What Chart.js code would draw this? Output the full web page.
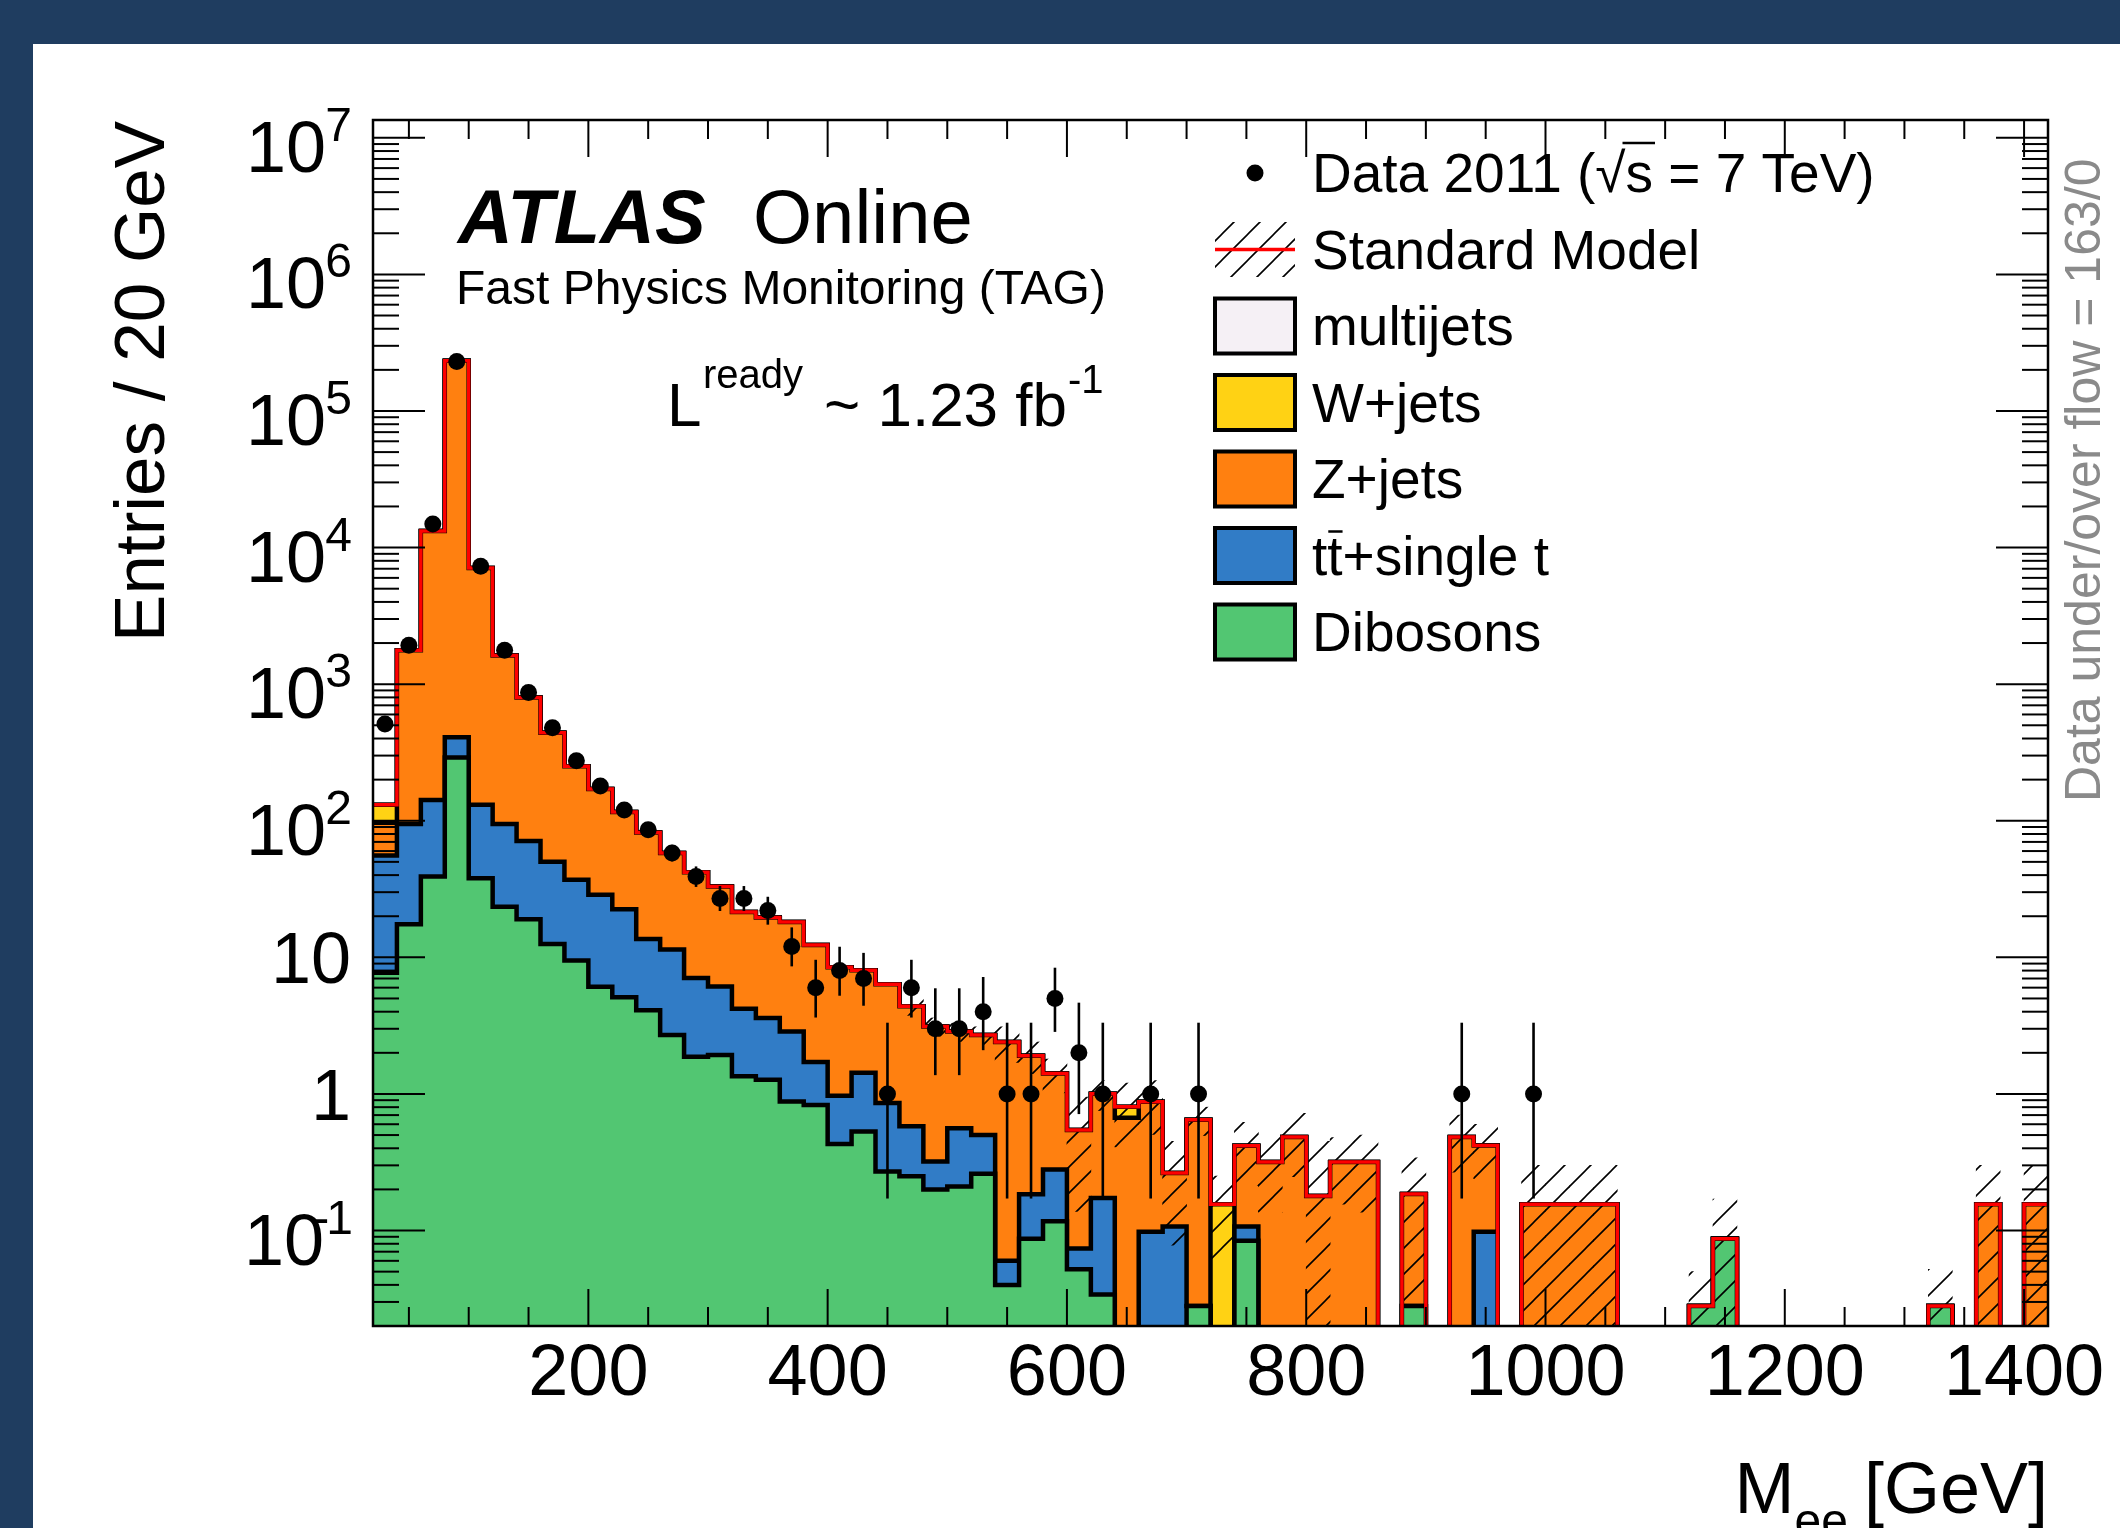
<!DOCTYPE html>
<html>
<head>
<meta charset="utf-8">
<script src="https://cdn.jsdelivr.net/npm/chart.js@4.4.1/dist/chart.umd.min.js"></script>
<style>
    html, body { margin: 0; padding: 0; background: #1f3d60; overflow: hidden; }
    canvas { display: block; }
</style>
</head>
<body>
<canvas id="meeChart" width="2120" height="1528"></canvas>
<script>
// 20 GeV bins from 20 to 1420 GeV
const binStart = 20;
const binWidth = 20;
const nBins = 70;

const xTickLabels = [200, 400, 600, 800, 1000, 1200, 1400];
const yTickExponents = [7, 6, 5, 4, 3, 2, 1, 0, -1];

const legendLabels = ["Data 2011 (\u221As = 7 TeV)", "Standard Model", "multijets", "W+jets", "Z+jets", "tt+single t", "Dibosons"];

const dataCounts = [
    510, 1930, 14900, 230000, 7300, 1770, 870, 480, 275, 180,
    120, 86, 58, 39, 27, 27, 22, 12, 6, 8,
    7, 1, 6, 3, 3, 4, 1, 1, 5, 2,
    1, 0, 1, 0, 1, 0, 0, 0, 0, 0,
    0, 0, 0, 0, 0, 1, 0, 0, 1, 0,
    0, 0, 0, 0, 0, 0, 0, 0, 0, 0,
    0, 0, 0, 0, 0, 0, 0, 0, 0, 0
];

const dibosons = [
    7.7, 17.5, 39, 290, 38, 23.5, 19, 12.5, 9.5, 6.1,
    5.1, 4.1, 2.7, 1.87, 1.93, 1.35, 1.27, 0.88, 0.83, 0.43,
    0.53, 0.27, 0.25, 0.20, 0.21, 0.26, 0.040, 0.087, 0.117, 0.052,
    0.034, 0, 0, 0, 0.028, 0, 0.084, 0, 0, 0,
    0, 0, 0, 0.028, 0, 0, 0, 0, 0, 0,
    0, 0, 0, 0, 0, 0.028, 0.087, 0, 0, 0,
    0, 0, 0, 0, 0, 0.028, 0, 0, 0, 0
];

const ttbarSingleTop = [
    48, 77, 103, 118, 93, 71, 52, 37.5, 27.5, 22.6,
    17.4, 9.5, 8.7, 5.2, 4.2, 2.85, 2.33, 1.98, 0.88, 0.54,
    0.90, 0.59, 0.33, 0.12, 0.35, 0.24, 0.020, 0.097, 0.163, 0.022,
    0.139, 0, 0.098, 0.107, 0, 0, 0.023, 0, 0, 0,
    0, 0, 0, 0, 0, 0, 0.098, 0, 0, 0,
    0, 0, 0, 0, 0, 0, 0, 0, 0, 0,
    0, 0, 0, 0, 0, 0, 0, 0, 0, 0
];

const zJets = [
    41, 1675, 13060, 232600, 6970, 1525, 729, 391, 214, 142,
    93.5, 68.4, 46.6, 34.9, 26.9, 17.3, 16.0, 15.3, 10.6, 7.5,
    6.6, 5.5, 3.8, 2.8, 2.3, 2.2, 2.34, 1.72, 1.13, 0.47,
    0.83, 0.67, 0.78, 0.157, 0.62, 0, 0.31, 0.318, 0.484, 0.179,
    0.318, 0.318, 0, 0.157, 0, 0.484, 0.322, 0, 0.156, 0.156,
    0.156, 0.156, 0, 0, 0, 0, 0, 0, 0, 0,
    0, 0, 0, 0, 0, 0, 0, 0.156, 0, 0.156
];

const wJets = [
    34, 0, 0, 0, 0, 0, 0, 0, 0, 0,
    0, 0, 0, 0, 0, 0, 0, 0, 0, 0,
    0, 0, 0, 0, 0, 0, 0, 0, 0, 0,
    0, 0.135, 0, 0, 0, 0.156, 0, 0, 0, 0,
    0, 0, 0, 0, 0, 0, 0, 0, 0, 0,
    0, 0, 0, 0, 0, 0, 0, 0, 0, 0,
    0, 0, 0, 0, 0, 0, 0, 0, 0, 0
];

const multijets = [
    0, 0, 0, 0, 0, 0, 0, 0, 0, 0,
    0, 0, 0, 0, 0, 0, 0, 0, 0, 0,
    0, 0, 0, 0, 0, 0, 0, 0, 0, 0,
    0, 0, 0, 0, 0, 0, 0, 0, 0, 0,
    0, 0, 0, 0, 0, 0, 0, 0, 0, 0,
    0, 0, 0, 0, 0, 0, 0, 0, 0, 0,
    0, 0, 0, 0, 0, 0, 0, 0, 0, 0
];

// upper edge of the SM uncertainty band (null = not visible)
const smBandHigh = [
    null, null, null, null, null, null, null, null, null, null,
    null, null, null, null, null, null, null, null, null, null,
    null, null, 5.0, 3.6, 3.3, 3.1, 3.1, 2.4, 1.8, 0.95,
    1.25, 1.2, 1.25, 0.45, 0.8, 0.25, 0.62, 0.5, 0.72, 0.45,
    0.48, 0.5, null, 0.34, null, 0.7, 0.6, null, 0.3, 0.3,
    0.3, 0.3, null, null, null, 0.05, 0.17, null, null, null,
    null, null, null, null, null, 0.052, null, 0.3, null, 0.3
];

const FONT = '"Liberation Sans", Arial, Helvetica, sans-serif';
const FLOOR = 1e-4;
const fillColours = ["#52c672", "#317cc6", "#ff8010", "#ffd214", "#f5f0f5"];

const binEdges = [];
for (let i = 0; i <= nBins; i++) binEdges.push(binStart + i * binWidth);

function stepPoints(values) {
    const pts = values.map((v, i) => ({ x: binEdges[i], y: v > 0 ? v : FLOOR }));
    const last = values[values.length - 1];
    pts.push({ x: binEdges[nBins], y: last > 0 ? last : FLOOR });
    return pts;
}

// stack, bottom to top
const layers = [dibosons, ttbarSingleTop, zJets, wJets, multijets];
const cumulative = [];
let running = new Array(nBins).fill(0);
layers.forEach(layer => {
    running = running.map((v, i) => v + layer[i]);
    cumulative.push(running);
});
const smTotal = cumulative[cumulative.length - 1];

function makeHatch() {
    const s = 26;
    const c = document.createElement("canvas");
    c.width = s; c.height = s;
    const g = c.getContext("2d");
    g.strokeStyle = "#000";
    g.lineWidth = 1.6;
    g.beginPath();
    g.moveTo(-s / 2, s / 2); g.lineTo(s / 2, -s / 2);
    g.moveTo(0, s); g.lineTo(s, 0);
    g.moveTo(s / 2, s * 1.5); g.lineTo(s * 1.5, s / 2);
    g.stroke();
    return g.createPattern(c, "repeat");
}
const hatch = makeHatch();

const bandData = [];
smBandHigh.forEach((hi, i) => {
    if (hi === null) return;
    const lo = Math.max(2 * smTotal[i] - hi, FLOOR);
    bandData.push({ x: binEdges[i] + binWidth / 2, y: [lo, hi] });
});

const dataPoints = [];
dataCounts.forEach((n, i) => {
    if (n > 0) dataPoints.push({ x: binEdges[i] + binWidth / 2, y: n });
});

const stackSets = cumulative.map((c, k) => ({
    type: "line",
    data: stepPoints(c),
    stepped: true,
    fill: "start",
    backgroundColor: fillColours[k],
    borderColor: "#000",
    borderWidth: 4.5,
    pointRadius: 0,
    order: 3 + k,
    clip: 0
}));

const datasets = [
    {
        type: "line",
        data: dataPoints,
        showLine: false,
        pointRadius: 8.5,
        pointBackgroundColor: "#000",
        pointBorderWidth: 0,
        errorBars: true,
        order: 0,
        clip: 0
    },
    {
        type: "line",
        data: stepPoints(smTotal),
        stepped: true,
        fill: false,
        borderColor: "#ff0000",
        borderWidth: 3.5,
        pointRadius: 0,
        order: 1,
        clip: 0
    },
    {
        type: "bar",
        data: bandData,
        backgroundColor: hatch,
        borderWidth: 0,
        barPercentage: 1,
        categoryPercentage: 1,
        grouped: false,
        order: 2,
        clip: 0
    }
].concat(stackSets);

function txt(ctx, s, x, y, size, opts) {
    opts = opts || {};
    ctx.font = (opts.style || "") + " " + size + "px " + FONT;
    ctx.fillStyle = opts.color || "#000";
    ctx.textAlign = opts.align || "left";
    ctx.textBaseline = "alphabetic";
    ctx.fillText(s, x, y);
    return ctx.measureText(s).width;
}

function seg(ctx, x1, y1, x2, y2) {
    ctx.beginPath();
    ctx.moveTo(x1, y1);
    ctx.lineTo(x2, y2);
    ctx.stroke();
}

const pagePlugin = {
    id: "page",
    beforeDraw(chart) {
        const ctx = chart.ctx;
        ctx.save();
        ctx.fillStyle = "#1f3d60";
        ctx.fillRect(0, 0, chart.width, chart.height);
        ctx.fillStyle = "#ffffff";
        ctx.fillRect(33, 44, chart.width - 33, chart.height - 44);
        ctx.restore();
    },
    beforeDatasetDraw(chart, args) {
        const ds = chart.data.datasets[args.index];
        if (!ds.errorBars) return;
        const ctx = chart.ctx, ys = chart.scales.y, xs = chart.scales.x, a = chart.chartArea;
        ctx.save();
        ctx.beginPath();
        ctx.rect(a.left, a.top, a.right - a.left, a.bottom - a.top);
        ctx.clip();
        ctx.strokeStyle = "#000";
        ctx.lineWidth = 2.6;
        ds.data.forEach(p => {
            const n = p.y;
            const hi = n + Math.sqrt(n + 0.75) + 1;
            const lo = n * Math.pow(1 - 1 / (9 * n) - 1 / (3 * Math.sqrt(n)), 3);
            const px = xs.getPixelForValue(p.x);
            seg(ctx, px, ys.getPixelForValue(Math.max(lo, FLOOR)), px, ys.getPixelForValue(hi));
        });
        ctx.restore();
    },
    afterDatasetsDraw(chart) {
        const ctx = chart.ctx, xs = chart.scales.x, ys = chart.scales.y, a = chart.chartArea;
        ctx.save();
        ctx.strokeStyle = "#000";
        ctx.lineWidth = 2;
        // x ticks, bottom and top
        for (let v = 50; v <= 1400; v += 50) {
            const px = xs.getPixelForValue(v);
            const len = v % 200 === 0 ? 37 : 19;
            seg(ctx, px, a.bottom, px, a.bottom - len);
            seg(ctx, px, a.top, px, a.top + len);
        }
        // log y ticks, left and right
        for (let e = -2; e <= 7; e++) {
            for (let m = 1; m <= 9; m++) {
                const v = m * Math.pow(10, e);
                if (v < ys.min || v > ys.max) continue;
                const py = ys.getPixelForValue(v);
                const len = m === 1 ? 52 : 26;
                seg(ctx, a.left, py, a.left + len, py);
                seg(ctx, a.right, py, a.right - len, py);
            }
        }
        ctx.lineWidth = 2.5;
        ctx.strokeRect(a.left, a.top, a.right - a.left, a.bottom - a.top);
        ctx.restore();
    },
    afterDraw(chart) {
        const ctx = chart.ctx, xs = chart.scales.x, ys = chart.scales.y;
        ctx.save();

        // tick labels
        xTickLabels.forEach(v => {
            txt(ctx, String(v), xs.getPixelForValue(v), 1395, 72, { align: "center" });
        });
        yTickExponents.forEach(e => {
            const py = ys.getPixelForValue(Math.pow(10, e));
            if (e === 0) {
                txt(ctx, "1", 351, py + 26, 72, { align: "right" });
            } else if (e === 1) {
                txt(ctx, "10", 351, py + 26, 72, { align: "right" });
            } else if (e < 0) {
                const w1 = txt(ctx, String(-e), 353, py + 3, 48, { align: "right" });
                txt(ctx, "-", 353 - w1 + 3, py + 3, 48, { align: "right" });
                txt(ctx, "10", 324, py + 34, 72, { align: "right" });
            } else {
                txt(ctx, String(e), 352, py + 3, 48, { align: "right" });
                txt(ctx, "10", 326, py + 34, 72, { align: "right" });
            }
        });

        // axis titles
        ctx.save();
        ctx.translate(164, 121);
        ctx.rotate(-Math.PI / 2);
        txt(ctx, "Entries / 20 GeV", 0, 0, 71, { align: "right" });
        ctx.restore();

        let xr = 2048;
        xr -= txt(ctx, "[GeV]", xr, 1513, 72, { align: "right" });
        xr -= 16;
        xr -= txt(ctx, "ee", xr, 1537, 48, { align: "right" });
        txt(ctx, "M", xr, 1513, 72, { align: "right" });

        ctx.save();
        ctx.translate(2100, 802);
        ctx.rotate(-Math.PI / 2);
        txt(ctx, "Data under/over flow = 163/0", 0, 0, 50, { color: "#8a8a8a" });
        ctx.restore();

        // ATLAS labels
        txt(ctx, "ATLAS", 458, 243, 76, { style: "italic bold" });
        txt(ctx, "Online", 753, 243, 76);
        txt(ctx, "Fast Physics Monitoring (TAG)", 456, 304, 48);
        txt(ctx, "L", 667, 426, 62);
        txt(ctx, "ready", 703, 388, 40);
        const wLumi = txt(ctx, "~ 1.23 fb", 824, 426, 62);
        txt(ctx, "-1", 824 + wLumi + 1, 393, 40);

        // legend
        const textX = 1312, boxL = 1215, boxW = 80, boxH = 55;
        const rowY = i => 173 + 76.5 * i;
        ctx.fillStyle = "#000";
        ctx.beginPath();
        ctx.arc(1255, rowY(0), 8.5, 0, Math.PI * 2);
        ctx.fill();
        txt(ctx, legendLabels[0], textX, rowY(0) + 19, 55);
        ctx.font = "55px " + FONT;
        const preW = ctx.measureText("Data 2011 (\u221A").width;
        const sW = ctx.measureText("s").width;
        ctx.strokeStyle = "#000";
        ctx.lineWidth = 2.5;
        seg(ctx, textX + preW - 3, rowY(0) - 30, textX + preW + sW + 2, rowY(0) - 30);

        ctx.save();
        ctx.fillStyle = hatch;
        ctx.fillRect(boxL, rowY(1) - boxH / 2, boxW, boxH);
        ctx.strokeStyle = "#ff0000";
        ctx.lineWidth = 3.5;
        seg(ctx, boxL, rowY(1), boxL + boxW, rowY(1));
        ctx.restore();
        txt(ctx, legendLabels[1], textX, rowY(1) + 19, 55);

        const boxColours = [fillColours[4], fillColours[3], fillColours[2], fillColours[1], fillColours[0]];
        for (let k = 0; k < 5; k++) {
            const y = rowY(k + 2);
            ctx.fillStyle = boxColours[k];
            ctx.fillRect(boxL, y - boxH / 2, boxW, boxH);
            ctx.strokeStyle = "#000";
            ctx.lineWidth = 4;
            ctx.strokeRect(boxL, y - boxH / 2, boxW, boxH);
            txt(ctx, legendLabels[k + 2], textX, y + 19, 55);
        }
        ctx.font = "55px " + FONT;
        const tW = ctx.measureText("t").width;
        ctx.strokeStyle = "#000";
        ctx.lineWidth = 2.5;
        seg(ctx, textX + tW + 1, rowY(5) - 24, textX + 2 * tW, rowY(5) - 24);

        ctx.restore();
    }
};

new Chart(document.getElementById("meeChart"), {
    type: "line",
    data: { datasets: datasets },
    options: {
        responsive: false,
        animation: false,
        devicePixelRatio: 1,
        events: [],
        layout: { padding: { left: 373, top: 120, right: 72, bottom: 202 } },
        plugins: {
            legend: { display: false },
            tooltip: { enabled: false }
        },
        scales: {
            x: { type: "linear", min: 20, max: 1420, offset: false, display: false },
            y: { type: "logarithmic", min: 0.02, max: 1.35e7, display: false }
        }
    },
    plugins: [pagePlugin]
});
</script>
</body>
</html>
